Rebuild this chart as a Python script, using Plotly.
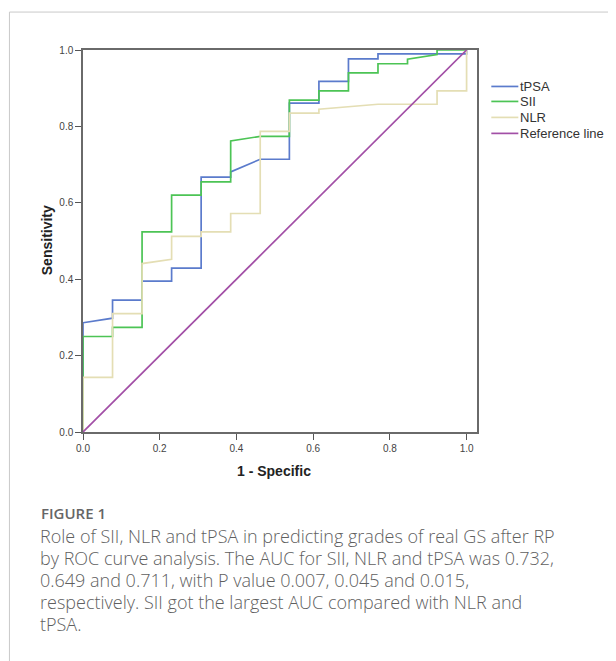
import plotly.graph_objects as go

# ---- data ----
series_names = ["tPSA", "SII", "NLR", "Reference line"]
series_colors = ["#5b7bcc", "#4cc455", "#e4deb4", "#a24fa6"]

tpsa_x = [0, 0, 0.077, 0.077, 0.154, 0.154, 0.231, 0.231, 0.308, 0.308, 0.385, 0.385,
          0.462, 0.538, 0.538, 0.615, 0.615, 0.692, 0.692, 0.769, 0.769, 1.0, 1.0]
tpsa_y = [0, 0.286, 0.298, 0.345, 0.345, 0.395, 0.395, 0.429, 0.429, 0.667, 0.667, 0.681,
          0.714, 0.714, 0.861, 0.861, 0.918, 0.918, 0.977, 0.977, 0.990, 0.990, 1.0]

sii_x = [0, 0, 0.077, 0.077, 0.154, 0.154, 0.231, 0.231, 0.308, 0.308, 0.385, 0.385,
         0.462, 0.538, 0.538, 0.615, 0.615, 0.692, 0.692, 0.769, 0.769, 0.846, 0.846,
         0.923, 0.923, 1.0]
sii_y = [0, 0.250, 0.250, 0.274, 0.274, 0.524, 0.524, 0.620, 0.620, 0.655, 0.655, 0.762,
         0.774, 0.774, 0.869, 0.869, 0.893, 0.893, 0.940, 0.940, 0.964, 0.964, 0.976,
         0.988, 1.0, 1.0]

nlr_x = [0, 0, 0.077, 0.077, 0.154, 0.154, 0.231, 0.231, 0.308, 0.308, 0.385, 0.385,
         0.462, 0.462, 0.538, 0.538, 0.615, 0.615, 0.769, 0.923, 0.923, 1.0, 1.0]
nlr_y = [0, 0.143, 0.143, 0.310, 0.310, 0.441, 0.452, 0.512, 0.512, 0.524, 0.524, 0.572,
         0.572, 0.787, 0.787, 0.835, 0.835, 0.845, 0.858, 0.858, 0.893, 0.893, 1.0]

ref_x = [0, 1]
ref_y = [0, 1]

tick_vals = [0.0, 0.2, 0.4, 0.6, 0.8, 1.0]
tick_text = ["0.0", "0.2", "0.4", "0.6", "0.8", "1.0"]

x_title = "1 - Specific"
y_title = "Sensitivity"
fig_label = "FIGURE 1"
caption_lines = [
    "Role of SII, NLR and tPSA in predicting grades of real GS after RP",
    "by ROC curve analysis. The AUC for SII, NLR and tPSA was 0.732,",
    "0.649 and 0.711, with P value 0.007, 0.045 and 0.015,",
    "respectively. SII got the largest AUC compared with NLR and",
    "tPSA.",
]

# ---- layout geometry (page body has an 8px default margin) ----
OFF = 8
W, H = 616 - OFF, 661 - OFF
ML, MR, MT, MB = 83 - OFF, 139.3, 49.5 - OFF, 229
PW = W - ML - MR
PH = H - MT - MB


def px(p):
    """reference-page pixel x -> paper x"""
    return (p - OFF - ML) / PW


def py(p):
    """reference-page pixel y -> paper y"""
    return (H - MB - (p - OFF)) / PH


fig = go.Figure()
all_x = [tpsa_x, sii_x, nlr_x, ref_x]
all_y = [tpsa_y, sii_y, nlr_y, ref_y]
for name, color, xs, ys in zip(series_names, series_colors, all_x, all_y):
    fig.add_trace(go.Scatter(x=xs, y=ys, mode="lines", name=name,
                             line=dict(color=color, width=1.7),
                             showlegend=False, hoverinfo="skip"))

axis_common = dict(
    showgrid=False, zeroline=False, showline=True, linecolor="#6a6a6a",
    linewidth=1.5, mirror=True, ticks="outside", ticklen=6, tickwidth=1.3,
    tickcolor="#555", tickvals=tick_vals, ticktext=tick_text,
    tickfont=dict(family="Arial, Liberation Sans", size=10, color="#444"),
)
fig.update_layout(
    width=W, height=H,
    margin=dict(l=ML, r=MR, t=MT, b=MB, pad=0),
    paper_bgcolor="white", plot_bgcolor="white",
    xaxis=dict(range=[0, PW / 383.3], **axis_common),
    yaxis=dict(range=[0, 1], **axis_common),
)

# page frame
fig.add_shape(type="path", xref="paper", yref="paper",
              path=f"M {px(9.5)},{py(700)} L {px(9.5)},{py(11.5)} L {px(640)},{py(11.5)}",
              line=dict(color="#c9c9c9", width=1))

# axis titles
fig.add_annotation(xref="paper", yref="paper", x=px(47), y=py(240), text=f"<b>{y_title}</b>",
                   textangle=-90, showarrow=False, xanchor="center", yanchor="middle",
                   font=dict(family="Arial, Liberation Sans", size=14, color="#222"))
fig.add_annotation(xref="paper", yref="paper", x=px(274), y=py(471), text=f"<b>{x_title}</b>",
                   showarrow=False, xanchor="center", yanchor="middle",
                   font=dict(family="Arial, Liberation Sans", size=14, color="#222"))

# legend
leg_rows = [86, 101, 117, 133]
for name, color, yy in zip(series_names, series_colors, leg_rows):
    fig.add_shape(type="line", xref="paper", yref="paper",
                  x0=px(491), x1=px(518), y0=py(yy), y1=py(yy),
                  line=dict(color=color, width=1.7))
    fig.add_annotation(xref="paper", yref="paper", x=px(518), y=py(yy), text=name,
                       xanchor="left", yanchor="middle", showarrow=False,
                       font=dict(family="Arial, Liberation Sans", size=13, color="#333"))

# caption
fig.add_annotation(xref="paper", yref="paper", x=px(39), y=py(513), text=fig_label,
                   xanchor="left", yanchor="middle", showarrow=False,
                   font=dict(family="Open Sans", size=15, color="#666", weight=600))
for i, line in enumerate(caption_lines):
    fig.add_annotation(xref="paper", yref="paper", x=px(38), y=py(536 + 22 * i), text=line,
                       xanchor="left", yanchor="middle", align="left", showarrow=False,
                       font=dict(family="Open Sans", size=18, color="#5f5f5f", weight=300))

fig.write_html("out.html")
